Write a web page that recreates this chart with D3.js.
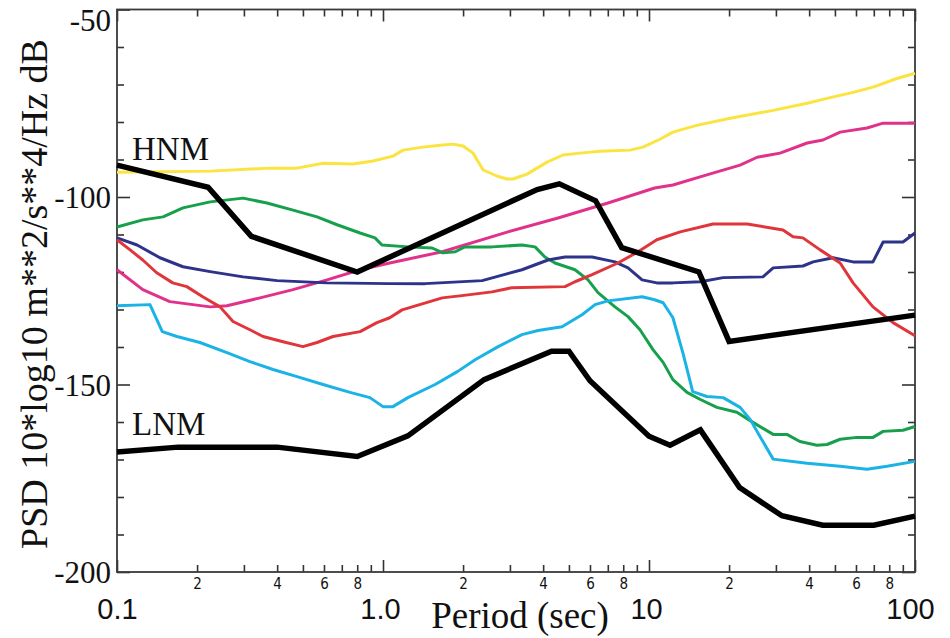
<!DOCTYPE html>
<html>
<head>
<meta charset="utf-8">
<script src="https://cdn.jsdelivr.net/npm/d3@7"></script>
<style>
    body { margin: 0; background: #fff; }
    svg text { fill: #111; }
    .serif { font-family: "Liberation Serif", "Times New Roman", serif; }
    .sans { font-family: "Liberation Sans", Arial, sans-serif; }
    .narrow { font-family: "Liberation Sans Narrow", "DejaVu Sans Condensed", "Liberation Sans", sans-serif; }
</style>
</head>
<body>
<svg id="psd"></svg>
<script>
var width = 950,
    height = 638

// [period (s), PSD (dB)]
var hnm = [[0.1,-91.5],[0.22,-97.4],[0.32,-110.5],[0.8,-120.0],[3.8,-98.0],[4.6,-96.5],[6.3,-101.0],
    [7.9,-113.5],[15.4,-120.0],[20,-138.5],[100,-131.5]]

var lnm = [[0.1,-168.0],[0.17,-166.7],[0.4,-166.7],[0.8,-169.2],[1.24,-163.7],[2.4,-148.7],[4.3,-141.1],
    [5.0,-141.1],[6.0,-149.0],[10,-163.8],[12,-166.2],[15.6,-162.1],[21.9,-177.5],[31.6,-185.0],
    [45,-187.5],[70,-187.5],[100,-185.1]]

var yellow = [[0.1,-93.4],[0.224,-93.1],[0.376,-92.3],[0.475,-92.3],[0.595,-91.0],[0.771,-91.2],[0.917,-90.4],
    [1.09,-89.1],[1.19,-87.5],[1.41,-86.7],[1.64,-86.2],[1.83,-85.9],[2.0,-86.4],[2.18,-88.3],[2.38,-92.8],
    [2.68,-94.4],[2.92,-95.2],[3.08,-95.2],[3.48,-93.9],[4.14,-90.7],[4.75,-88.8],[5.51,-88.3],[6.54,-87.8],
    [8.49,-87.5],[9.49,-86.7],[11.0,-84.6],[12.3,-82.7],[15.1,-80.9],[20.2,-79.0],[29.3,-76.9],[39.3,-75.0],
    [46.7,-73.7],[58.5,-72.1],[69.5,-70.7],[85.5,-68.4],[100,-67.0]]

var pink = [[0.1,-119.4],[0.125,-124.7],[0.158,-127.9],[0.224,-129.3],[0.259,-129.0],[0.345,-126.9],
    [0.459,-124.7],[0.616,-122.1],[0.82,-119.4],[1.06,-117.6],[1.67,-114.6],[2.95,-109.3],[4.55,-105.6],
    [7.01,-101.6],[10.5,-97.6],[12.3,-96.8],[16.5,-94.1],[22.0,-91.5],[25.5,-89.4],[31.1,-88.3],[39.3,-85.6],
    [45.1,-84.8],[52.3,-82.7],[66.0,-81.6],[75.9,-80.3],[100,-80.3]]

var green = [[0.1,-108.0],[0.125,-106.1],[0.149,-105.3],[0.177,-102.9],[0.224,-101.3],[0.298,-100.3],
    [0.366,-101.6],[0.459,-103.5],[0.565,-105.3],[0.672,-107.4],[0.82,-109.6],[0.933,-110.9],[0.991,-112.8],
    [1.24,-113.3],[1.53,-113.6],[1.68,-114.9],[1.87,-114.6],[2.03,-113.3],[2.57,-113.3],[3.33,-112.8],
    [3.73,-113.3],[4.06,-116.0],[4.43,-117.6],[5.27,-119.4],[5.9,-122.1],[6.43,-125.5],[7.45,-129.3],
    [8.34,-131.9],[9.25,-135.4],[10.35,-140.7],[11.3,-144.1],[12.3,-148.7],[13.9,-152.1],[15.6,-154.0],
    [18.0,-156.1],[21.4,-157.4],[24.6,-160.1],[29.3,-163.3],[33.0,-163.3],[36.9,-165.2],[42.8,-166.2],
    [46.7,-166.0],[52.3,-164.6],[60.5,-164.1],[69.5,-164.1],[75.9,-162.5],[90.1,-162.2],[100,-161.2]]

var cyan = [[0.1,-129.0],[0.133,-128.7],[0.148,-135.9],[0.168,-137.2],[0.205,-138.8],[0.259,-141.5],
    [0.316,-143.9],[0.386,-146.0],[0.475,-147.9],[0.595,-150.0],[0.752,-152.1],[0.893,-153.5],[1.0,-155.9],
    [1.09,-155.9],[1.24,-153.5],[1.57,-150.0],[1.91,-146.5],[2.22,-143.4],[2.71,-139.9],[3.33,-136.7],
    [3.83,-135.6],[4.71,-134.6],[5.6,-131.4],[6.27,-128.7],[7.01,-127.7],[9.42,-126.6],[10.5,-127.4],
    [11.3,-128.2],[12.3,-132.2],[13.4,-141.5],[14.6,-151.9],[16.5,-153.2],[19.0,-153.5],[22.0,-156.1],
    [24.0,-159.3],[26.1,-163.8],[29.3,-169.9],[39.3,-171.0],[52.3,-171.8],[66.0,-172.6],[78.5,-171.8],
    [100,-170.5]]

var red = [[0.1,-111.4],[0.112,-114.1],[0.125,-116.8],[0.141,-120.2],[0.162,-122.9],[0.183,-123.9],
    [0.21,-126.6],[0.244,-129.3],[0.273,-133.2],[0.316,-135.4],[0.354,-137.2],[0.421,-138.6],[0.5,-139.9],
    [0.565,-138.8],[0.649,-137.2],[0.82,-135.9],[0.949,-133.5],[1.06,-132.2],[1.18,-130.1],[1.67,-126.9],
    [1.98,-126.3],[2.57,-125.3],[3.05,-124.2],[4.83,-123.9],[5.27,-122.6],[6.11,-120.7],[7.64,-117.6],
    [9.1,-114.6],[10.7,-111.4],[13.1,-109.3],[17.4,-107.2],[23.4,-107.2],[31.9,-108.8],[34.8,-110.6],
    [37.9,-110.9],[44.0,-114.1],[52.3,-117.6],[58.5,-122.9],[69.5,-129.3],[82.7,-133.5],[100,-137.0]]

var navy = [[0.1,-110.9],[0.119,-112.8],[0.145,-116.2],[0.177,-118.6],[0.224,-119.9],[0.298,-121.3],
    [0.4,-122.3],[0.616,-122.9],[1.06,-123.1],[1.44,-123.1],[2.36,-122.3],[3.33,-119.4],[4.17,-116.8],
    [4.83,-116.0],[6.11,-116.0],[7.45,-117.3],[8.34,-118.9],[9.42,-122.1],[10.7,-122.9],[12.3,-122.9],
    [15.6,-122.6],[19.0,-121.5],[26.8,-121.3],[29.3,-118.9],[37.9,-118.4],[41.4,-117.3],[49.2,-116.2],
    [58.5,-117.3],[69.5,-117.3],[75.9,-112.0],[90.1,-112.0],[100,-109.6]]

var series = [
    {name: "yellow", color: "#fbe340", data: yellow},
    {name: "pink", color: "#e0318b", data: pink},
    {name: "green", color: "#17a04b", data: green},
    {name: "navy", color: "#2d3389", data: navy},
    {name: "red", color: "#e0353b", data: red},
    {name: "cyan", color: "#1bb3e6", data: cyan}
]

var majorX = [0.1, 1, 10, 100],
    majorXLabels = ["0.1", "1.0", "10", "100"]
var majorY = [-200, -150, -100, -50]

var padL = 117, padR = 915, padT = 9.5, padB = 572

var svg = d3.select("svg#psd")
    .attr("width", width)
    .attr("height", height)

var x = d3.scaleLog().domain([0.1, 100]).range([padL, padR])
var y = d3.scaleLinear().domain([-200, -50]).range([padB, padT])

// minor ticks 2..9 in every decade
var minorX = []
for (var dec = 0.1; dec < 100; dec *= 10) {
    for (var m = 2; m <= 9; m++) minorX.push(+(m * dec).toPrecision(3))
}
var minorY = d3.range(-190, -50, 10).filter(function(d){ return d % 50 !== 0 })

function mantissa(d) {
    return Math.round(d / Math.pow(10, Math.floor(Math.log10(d) + 1e-9)))
}

// bottom axis
var gb = svg.append("g").attr("transform", "translate(0," + padB + ")")
gb.call(d3.axisBottom(x).tickValues(minorX).tickSizeInner(-7).tickSizeOuter(0).tickPadding(6)
    .tickFormat(function(d){ var k = mantissa(d); return (k % 2 === 0) ? k : "" }))
gb.selectAll("text").attr("class", "narrow").attr("font-size", 15)
var gb2 = svg.append("g").attr("transform", "translate(0," + padB + ")")
gb2.call(d3.axisBottom(x).tickValues(majorX).tickSizeInner(-12).tickSizeOuter(0).tickPadding(26)
    .tickFormat(function(d, i){ return majorXLabels[i] }))
gb2.selectAll("text").attr("class", "sans").attr("font-size", 29)
    .attr("dx", function(d){ return d === 100 ? -5 : (d === 0.1 ? 0 : -3) })

// top axis, ticks only
var gt = svg.append("g").attr("transform", "translate(0," + padT + ")")
gt.call(d3.axisTop(x).tickValues(minorX).tickSizeInner(-7).tickSizeOuter(0).tickFormat(""))
var gt2 = svg.append("g").attr("transform", "translate(0," + padT + ")")
gt2.call(d3.axisTop(x).tickValues(majorX).tickSizeInner(-12).tickSizeOuter(0).tickFormat(""))

// left axis
var gl = svg.append("g").attr("transform", "translate(" + padL + ",0)")
gl.call(d3.axisLeft(y).tickValues(minorY).tickSizeInner(-7).tickSizeOuter(0).tickFormat(""))
var gl2 = svg.append("g").attr("transform", "translate(" + padL + ",0)")
gl2.call(d3.axisLeft(y).tickValues(majorY).tickSizeInner(-13).tickSizeOuter(0).tickPadding(6)
    .tickFormat(function(d){ return "-" + Math.abs(d) }))
gl2.selectAll("text").attr("class", "serif").attr("font-size", 31)
    .attr("dy", function(d){ return d === -50 ? "0.68em" : "0.34em" })

// right axis, ticks only
var gr = svg.append("g").attr("transform", "translate(" + padR + ",0)")
gr.call(d3.axisRight(y).tickValues(minorY).tickSizeInner(-7).tickSizeOuter(0).tickFormat(""))
var gr2 = svg.append("g").attr("transform", "translate(" + padR + ",0)")
gr2.call(d3.axisRight(y).tickValues(majorY).tickSizeInner(-13).tickSizeOuter(0).tickFormat(""))

svg.selectAll(".domain").remove()
svg.selectAll(".tick line").attr("stroke", "#333").attr("stroke-width", 1.6)

// frame
svg.append("rect")
    .attr("x", padL).attr("y", padT)
    .attr("width", padR - padL).attr("height", padB - padT)
    .attr("fill", "none").attr("stroke", "#3a3a3a").attr("stroke-width", 1.8)

var line = d3.line()
    .x(function(d){ return x(d[0]) })
    .y(function(d){ return y(d[1]) })

svg.append("g").selectAll("path")
    .data(series)
    .enter().append("path")
    .attr("d", function(d){ return line(d.data) })
    .attr("fill", "none")
    .attr("stroke", function(d){ return d.color })
    .attr("stroke-width", 3)
    .attr("stroke-linejoin", "round")

svg.append("g").selectAll("path")
    .data([hnm, lnm])
    .enter().append("path")
    .attr("d", line)
    .attr("fill", "none")
    .attr("stroke", "#000")
    .attr("stroke-width", 5.5)
    .attr("stroke-linejoin", "miter")

// labels
svg.append("text").attr("class", "serif").attr("font-size", 33)
    .attr("x", 132).attr("y", 160).text("HNM")
svg.append("text").attr("class", "serif").attr("font-size", 33)
    .attr("x", 132).attr("y", 435).text("LNM")

svg.append("text").attr("class", "serif").attr("font-size", 37)
    .attr("text-anchor", "middle")
    .attr("x", 520).attr("y", 628)
    .text("Period (sec)")

svg.append("text").attr("class", "serif").attr("font-size", 38)
    .attr("text-anchor", "middle")
    .attr("transform", "translate(47,294) rotate(-90)")
    .text("PSD 10*log10 m**2/s**4/Hz dB")
</script>
</body>
</html>
